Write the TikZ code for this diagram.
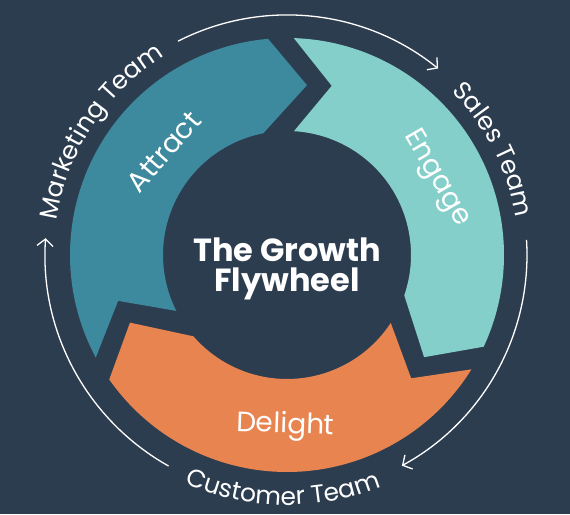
\documentclass[tikz,border=0pt]{standalone}
\usepackage{fontspec}
\setmainfont{Poppins}
\usetikzlibrary{arrows.meta,decorations.text}
\definecolor{bg}{RGB}{45,61,80}
\definecolor{attractc}{RGB}{61,138,158}
\definecolor{engagec}{RGB}{132,207,201}
\definecolor{delightc}{RGB}{232,132,79}
\begin{document}
\begin{tikzpicture}[
  seglabel/.style={text=white, font=\fontsize{28}{28}\selectfont, inner sep=0pt},
  titlelabel/.style={text=white, font=\fontsize{32}{32}\selectfont\bfseries, inner sep=0pt},
  teamarc/.style={white, line width=1.3pt, -{Straight Barb[length=7pt,width=16pt,line width=1.3pt]}},
]
\fill[bg] (0,0) rectangle (570pt,514pt);
\useasboundingbox (0,0) rectangle (570pt,514pt);
\begin{scope}[shift={(287pt,259pt)}]
  % Attract
  \fill[attractc] (208.2:217pt) arc[start angle=208.2, end angle=95, radius=217pt]
     -- (83.3:171pt) -- (101:124pt) arc[start angle=101, end angle=206.8, radius=124pt]
     -- (195.2:175pt) -- cycle;
  % Engage
  \fill[engagec] (88.2:217pt) arc[start angle=88.2, end angle=-25, radius=217pt]
     -- (-36.7:171pt) -- (-19:124pt) arc[start angle=-19, end angle=86.8, radius=124pt]
     -- (75.2:175pt) -- cycle;
  % Delight
  \fill[delightc] (-31.8:217pt) arc[start angle=-31.8, end angle=-145, radius=217pt]
     -- (-156.7:171pt) -- (-139:124pt) arc[start angle=-139, end angle=-33.2, radius=124pt]
     -- (-44.8:175pt) -- cycle;

  % arrows between team labels
  \coordinate (topS) at (117:240pt);
  \draw[teamarc] (topS) arc[start angle=117, end angle=51, radius=240pt];
  \coordinate (rightS) at (3.6:240pt);
  \draw[teamarc] (rightS) arc[start angle=3.6, end angle=-61.4, radius=240pt];
  \coordinate (leftS) at (240.7:242pt);
  \draw[teamarc] (leftS) arc[start angle=240.7, end angle=176, radius=242pt];

  % team labels
  \path[decorate, decoration={text along path, text color=white, text align=center,
      text={|\fontsize{25}{25}\selectfont|Marketing Team}}]
      (185:233pt) arc[start angle=185, end angle=108, radius=233pt];
  \path[decorate, decoration={text along path, text color=white, text align=center,
      text={|\fontsize{25}{25}\selectfont|Sales Team}}]
      (62:232pt) arc[start angle=62, end angle=-8, radius=232pt];
  \path[decorate, decoration={text along path, text color=white, text align=center,
      text={|\fontsize{25}{25}\selectfont|Customer Team}}]
      (-130:250pt) arc[start angle=-130, end angle=-52, radius=250pt];

  % segment labels
  \node[seglabel, rotate=49, anchor=base] (attract) at (140:151pt) {Attract};
  \node[seglabel, rotate=-60, anchor=base] (engage) at (27:162pt) {Engage};
  \node[seglabel, rotate=-2, anchor=base] (delight) at (-90.6:178pt) {Delight};

  % title
  \node[titlelabel, anchor=base] (title1) at (0pt,-7pt) {The Growth};
  \node[titlelabel, anchor=base] (title2) at (0pt,-37pt) {Flywheel};
\end{scope}
\end{tikzpicture}
\end{document}
